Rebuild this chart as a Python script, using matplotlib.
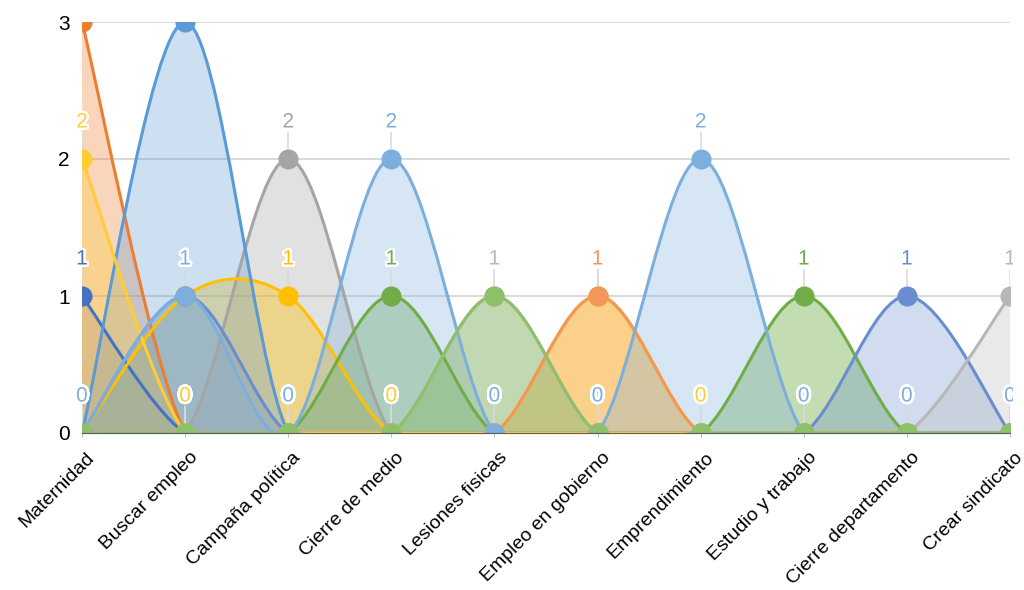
import numpy as np
import matplotlib
matplotlib.use('Agg')
import matplotlib.pyplot as plt
from matplotlib.path import Path
from matplotlib.patches import PathPatch
from matplotlib.transforms import ScaledTranslation, Bbox
import matplotlib.patheffects as pe

plt.rcParams['font.family'] = ['Liberation Sans', 'DejaVu Sans']

categories = ['Maternidad', 'Buscar empleo', 'Campaña política', 'Cierre de medio',
              'Lesiones fisicas', 'Empleo en gobierno', 'Emprendimiento',
              'Estudio y trabajo', 'Cierre departamento', 'Crear sindicato']

# one list per series, drawn bottom to top
s_dark_blue   = [1, 0, 0, 0, 0, 0, 0, 0, 0, 0]
s_orange      = [3, 0, 0, 0, 0, 0, 0, 0, 0, 0]
s_gray        = [0, 0, 2, 0, 0, 0, 0, 0, 0, 0]
s_gold        = [0, 1, 1, 0, 0, 1, 0, 0, 0, 0]
s_blue        = [0, 3, 0, 0, 0, 0, 0, 0, 0, 0]
s_green       = [0, 0, 0, 1, 0, 0, 0, 1, 0, 0]
s_mid_blue    = [0, 1, 0, 0, 0, 0, 0, 0, 1, 0]
s_salmon      = [0, 0, 0, 0, 0, 1, 0, 0, 0, 0]
s_light_gray  = [0, 0, 0, 0, 1, 0, 0, 0, 0, 1]
s_yellow      = [2, 0, 0, 0, 0, 0, 0, 0, 0, 0]
s_light_blue  = [0, 1, 0, 2, 0, 0, 2, 0, 0, 0]
s_light_green = [0, 0, 0, 0, 1, 0, 0, 0, 0, 0]

# (values, line colour, fill alpha, show labels)
series = [
    (s_dark_blue,   '#4472C4', 0.30, True),
    (s_orange,      '#ED7D31', 0.32, True),
    (s_gray,        '#A5A5A5', 0.33, True),
    (s_gold,        '#FFC000', 0.38, True),
    (s_blue,        '#5B9BD5', 0.30, True),
    (s_green,       '#70AD47', 0.42, True),
    (s_mid_blue,    '#698ED0', 0.30, True),
    (s_salmon,      '#F1975A', 0.28, True),
    (s_light_gray,  '#B7B7B7', 0.30, True),
    (s_yellow,      '#FFCD33', 0.32, True),
    (s_light_blue,  '#7CAFDD', 0.30, True),
    (s_light_green, '#8CC168', 0.42, False),
]


def smooth_path(xs, ys, close=False):
    # Catmull-Rom style bezier, like the office "smoothed line"
    pts = np.column_stack([xs, ys]).astype(float)
    n = len(pts)
    verts = [pts[0]]
    codes = [Path.MOVETO]
    for i in range(n - 1):
        p0 = pts[max(i - 1, 0)]
        p1 = pts[i]
        p2 = pts[i + 1]
        p3 = pts[min(i + 2, n - 1)]
        verts += [p1 + (p2 - p0) / 6, p2 - (p3 - p1) / 6, p2]
        codes += [Path.CURVE4] * 3
    if close:
        verts += [(xs[-1], 0), (xs[0], 0), (xs[0], 0)]
        codes += [Path.LINETO, Path.LINETO, Path.CLOSEPOLY]
    return Path(verts, codes)


fig = plt.figure(figsize=(10.24, 5.9), dpi=100)
ax = fig.add_axes([82 / 1024, 1 - 433 / 590, 928 / 1024, 411 / 590])
ax.set_xlim(0, len(categories) - 1)
ax.set_ylim(0, 3)
ymax = ax.get_ylim()[1]

x = np.arange(len(categories))
# fills first, then lines, then markers
for k, (vals, col, alpha, lab) in enumerate(series):
    ax.add_patch(PathPatch(smooth_path(x, vals, close=True), facecolor=col,
                           edgecolor='none', alpha=alpha, zorder=2 + k * 0.01))
for k, (vals, col, alpha, lab) in enumerate(series):
    ax.add_patch(PathPatch(smooth_path(x, vals), facecolor='none', edgecolor=col,
                           lw=2.2, zorder=3 + k * 0.01))
for k, (vals, col, alpha, lab) in enumerate(series):
    ax.plot(x, vals, 'o', color=col, ms=13.5, mec=col, zorder=4 + k * 0.01)

# data labels with leader lines (labels above the plot top fall outside the chart)
ppu = ax.transData.transform([(0, 1)])[0, 1] - ax.transData.transform([(0, 0)])[0, 1]
clip = Bbox.from_extents(68, 0, 1013, 590 - 22)
for vals, col, alpha, lab in series:
    if not lab:
        continue
    for i, v in enumerate(vals):
        ly = v + 37 / ppu
        if ly > ymax:
            continue
        ax.vlines(i, v + 10 / ppu, v + 27 / ppu, color='#D9D9D9', lw=1.1, zorder=40)
        t = ax.text(i, ly, str(v), color=col, fontsize=15, ha='center', va='center',
                    zorder=41, path_effects=[pe.withStroke(linewidth=3.5, foreground='white')])
        t.set_clip_path(None)
        t.set_clip_box(clip)
        t.set_clip_on(True)

ax.set_yticks([0, 1, 2, 3])
ax.yaxis.grid(True, color='#D0D0D0', lw=1.1)
ax.set_axisbelow(True)
ax.set_xticks(x)
ax.set_xticklabels(categories, rotation=45, ha='right', va='top', rotation_mode='anchor')
ax.tick_params(axis='y', length=0, pad=9, labelsize=15)
ax.tick_params(axis='x', length=3, color='#BFBFBF', pad=8.5, labelsize=14)
shift = ScaledTranslation(4 / 100, 0, fig.dpi_scale_trans)
for lbl in ax.get_xticklabels():
    lbl.set_transform(lbl.get_transform() + shift)
for s in ['left', 'right', 'top']:
    ax.spines[s].set_visible(False)
ax.spines['bottom'].set_color('#595959')
ax.spines['bottom'].set_zorder(30)

fig.savefig('out.png', dpi=100)
